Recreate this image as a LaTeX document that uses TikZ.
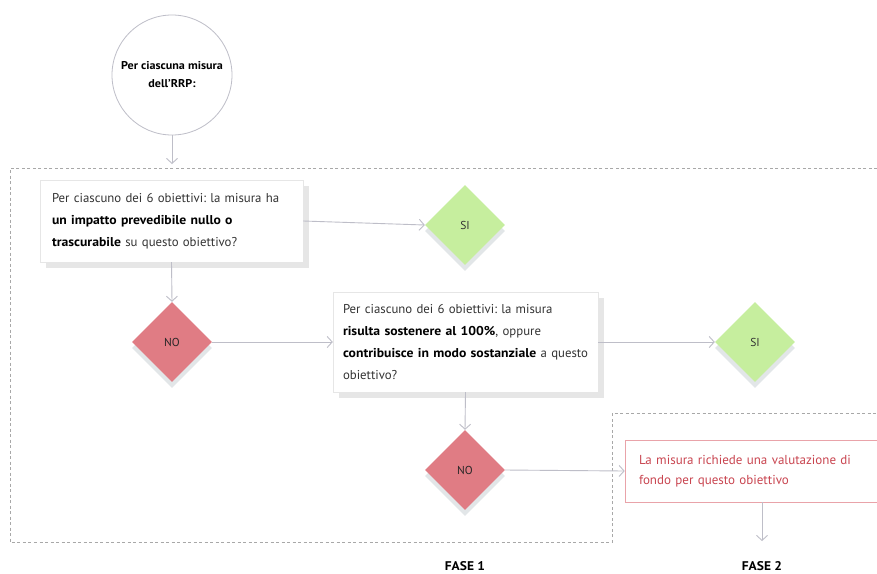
\documentclass[tikz,border=0pt]{standalone}
\usepackage{fontspec}
\setmainfont{PT Sans}[BoldFeatures={FakeStretch=1.07}]
\usetikzlibrary{arrows.meta,shapes.geometric}
\definecolor{linec}{HTML}{BEBEC8}
\definecolor{dashc}{HTML}{A8A8A8}
\definecolor{redd}{HTML}{E07C84}
\definecolor{greend}{HTML}{C6EE9E}
\definecolor{shad}{HTML}{E2E6E8}
\definecolor{boxshad}{HTML}{E6E6E6}
\definecolor{txt}{HTML}{333333}
\definecolor{redtxt}{HTML}{C94550}
\tikzset{
  conn/.style={draw=linec, line width=0.9pt, -{Straight Barb[length=5pt,width=11pt,line width=0.9pt]}},
  dashbox/.style={draw=dashc, line width=0.8pt, dash pattern=on 3pt off 2.5pt},
  qbox/.style={rectangle, draw=boxshad, line width=0.4pt, fill=white, align=left,
     font=\frenchspacing\fontsize{12.8}{22}\selectfont, text=txt},
  dia/.style={diamond, minimum width=80pt, minimum height=80pt, inner sep=0pt, font=\fontsize{11.5}{13}\selectfont},
  dshadow/.style={diamond, minimum width=80pt, minimum height=80pt, inner sep=0pt, fill=shad},
  fase/.style={font=\bfseries\fontsize{12.6}{14}\selectfont, text=black}
}
\begin{document}
\begin{tikzpicture}[x=1pt,y=-1pt]
\useasboundingbox (0,0) rectangle (877,573);
\clip (0,0) rectangle (877,573);
\fill[white] (0,0) rectangle (877,573);

% dashed phase frames
\draw[dashbox] (877,168) -- (10,168) -- (10,542) -- (612,542) -- (612,413) -- (877,413);

% start circle
\node[circle, draw=linec, line width=0.8pt, minimum size=120pt, align=center,
      font=\bfseries\frenchspacing\fontsize{11.3}{18}\selectfont, text=black] (start) at (172,75)
      {Per ciascuna misura\\dell'RRP:};
\coordinate (fin1) at (172,164);

% box 1
\fill[boxshad] (46,186) rectangle (309,268);
\node[qbox, inner xsep=12pt, minimum width=263pt, minimum height=82pt, text width=239pt] (q1) at (171.5,221)
 {Per ciascuno dei 6 obiettivi: la misura ha\\
  \textbf{\color{black}un impatto prevedibile nullo o}\\
  \textbf{\color{black}trascurabile} su questo obiettivo?};

% SI 1
\node[dshadow] at (465,231) {};
\node[dia, fill=greend, text=txt] (si1) at (465,225) {SI};

% NO 1
\node[dshadow] at (172,348) {};
\node[dia, fill=redd, text=black!85] (no1) at (172,342) {NO};

% box 2
\fill[boxshad] (339,298) rectangle (604,398);
\node[qbox, inner xsep=10pt, minimum width=265pt, minimum height=100pt, text width=245pt] (q2) at (465.5,342)
 {Per ciascuno dei 6 obiettivi: la misura\\
  \textbf{\color{black}risulta sostenere al 100\%}, oppure\\
  \mbox{\textbf{\color{black}contribuisce in modo sostanziale} a questo}\\
  obiettivo?};

% SI 2
\node[dshadow] at (755,348) {};
\node[dia, fill=greend, text=txt] (si2) at (755,342) {SI};

% NO 2
\node[dshadow] at (465,476) {};
\node[dia, fill=redd, text=black!85] (no2) at (465,470) {NO};

% box 3
\node[rectangle, draw=redd!70, line width=0.6pt, fill=white, inner xsep=14pt, align=left,
      font=\frenchspacing\fontsize{13}{20}\selectfont, text=redtxt, minimum width=265pt, minimum height=62pt,
      text width=237pt] (val) at (757.5,471)
 {La misura richiede una valutazione di\\fondo per questo obiettivo};
\coordinate (fin2) at (762,541);

% connectors
\draw[conn] (start.south) -- (fin1);
\draw[conn] (q1.east) -- (si1.west);
\draw[conn] (q1.south) -- (no1.north);
\draw[conn] (no1.east) -- (q2.west);
\draw[conn] (q2.east) -- (si2.west);
\draw[conn] (q2.south) -- (no2.north);
\draw[conn] (no2.east) -- (val.west);
\draw[conn] (val.south -| fin2) -- (fin2);

% phase labels
\node[fase] (f1) at (465,566) {FASE 1};
\node[fase] (f2) at (762,566) {FASE 2};
\end{tikzpicture}
\end{document}
